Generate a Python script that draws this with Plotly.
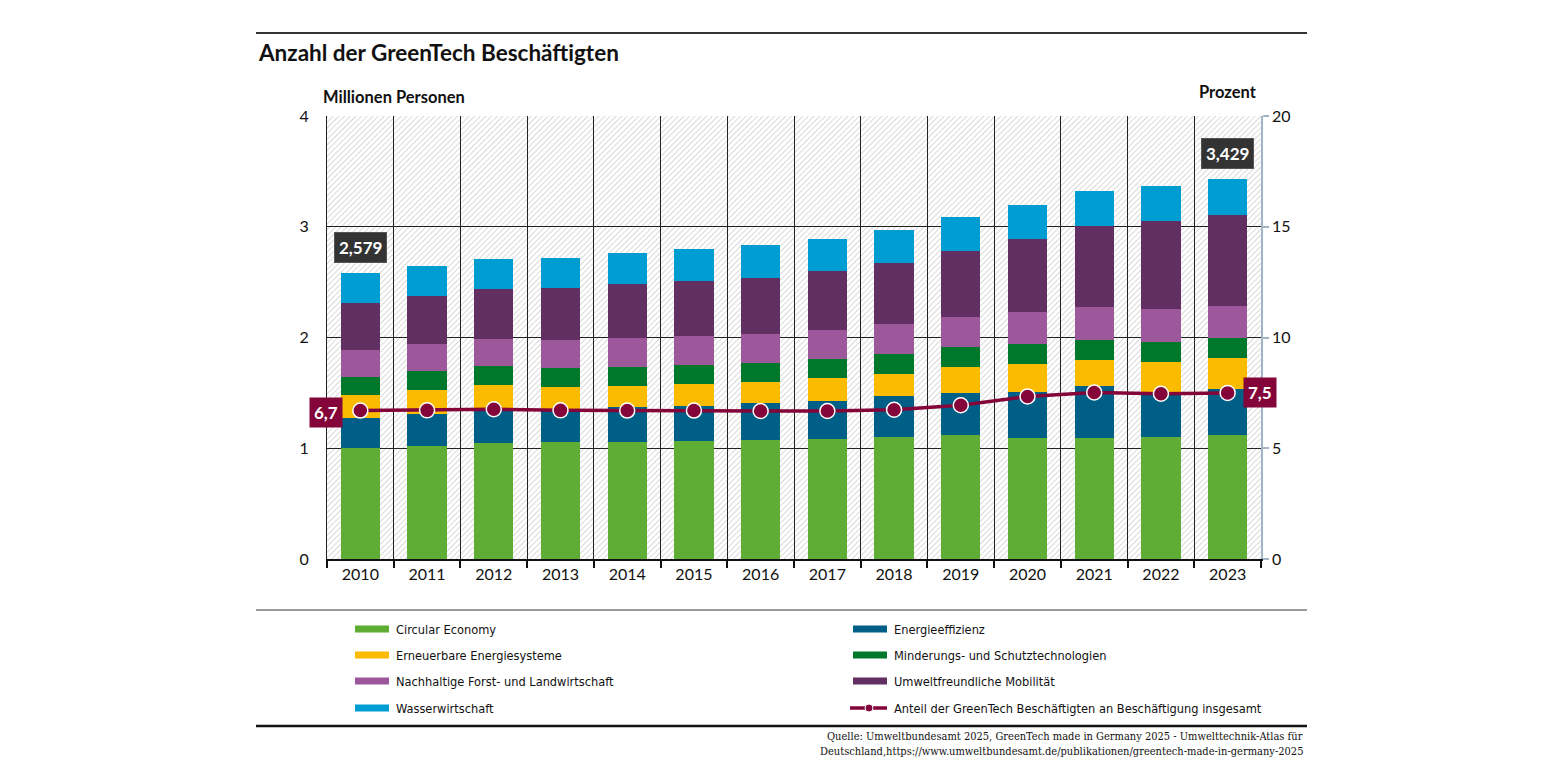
import base64
import plotly.graph_objects as go

years = ['2010', '2011', '2012', '2013', '2014', '2015', '2016',
         '2017', '2018', '2019', '2020', '2021', '2022', '2023']

# Millionen Personen je Leitmarkt (von unten nach oben gestapelt)
circular_economy = [0.999, 1.024, 1.045, 1.054, 1.060, 1.063, 1.072,
                    1.084, 1.102, 1.120, 1.096, 1.090, 1.105, 1.123]
energieeffizienz = [0.276, 0.288, 0.295, 0.296, 0.312, 0.318, 0.333,
                    0.345, 0.366, 0.382, 0.415, 0.469, 0.405, 0.409]
erneuerbare = [0.207, 0.217, 0.234, 0.206, 0.193, 0.199, 0.190,
               0.202, 0.205, 0.228, 0.249, 0.237, 0.268, 0.282]
minderung = [0.163, 0.165, 0.168, 0.168, 0.168, 0.171, 0.171,
             0.174, 0.177, 0.180, 0.180, 0.180, 0.183, 0.180]
forst_land = [0.240, 0.243, 0.246, 0.252, 0.261, 0.267, 0.270,
              0.267, 0.276, 0.279, 0.294, 0.300, 0.300, 0.294]
mobilitaet = [0.423, 0.435, 0.447, 0.468, 0.489, 0.493, 0.505,
              0.526, 0.544, 0.589, 0.652, 0.733, 0.787, 0.814]
wasser = [0.271, 0.271, 0.277, 0.277, 0.280, 0.288, 0.294,
          0.294, 0.303, 0.309, 0.312, 0.315, 0.318, 0.327]

# Anteil an Beschaeftigung insgesamt, Prozent
anteil = [6.70, 6.71, 6.76, 6.71, 6.70, 6.70, 6.68,
          6.68, 6.74, 6.94, 7.34, 7.52, 7.46, 7.50]

series = [
    ('Circular Economy', circular_economy, '#5fad35'),
    ('Energieeffizienz', energieeffizienz, '#005f86'),
    ('Erneuerbare Energiesysteme', erneuerbare, '#fabb00'),
    ('Minderungs- und Schutztechnologien', minderung, '#00782b'),
    ('Nachhaltige Forst- und Landwirtschaft', forst_land, '#9d579b'),
    ('Umweltfreundliche Mobilität', mobilitaet, '#612f62'),
    ('Wasserwirtschaft', wasser, '#009dd3'),
]
line_name = 'Anteil der GreenTech Beschäftigten an Beschäftigung insgesamt'
line_color = '#830539'

FONT = 'Lato, Open Sans, sans-serif'
NARROW = 'Liberation Sans Narrow, DejaVu Sans Condensed, sans-serif'
SERIF = 'DejaVu Serif Condensed, Liberation Serif, serif'

# page body has an 8px margin; positions below are screen pixels
OFF = 8
L, R, T, B = 327, 1261, 116, 559
W, H = R - L, B - T


def px(x):
    return (x - L) / W


def py(y):
    return (B - y) / H


fig = go.Figure()

for name, vals, color in series:
    fig.add_trace(go.Bar(name=name, x=years, y=vals, marker_color=color,
                         marker_line_width=0, width=0.59))

fig.add_trace(go.Scatter(name=line_name, x=years, y=anteil, yaxis='y2',
                         mode='lines+markers',
                         line=dict(color=line_color, width=3.5),
                         marker=dict(size=15, color=line_color,
                                     line=dict(color='white', width=1.5))))

# hatched plot background
hatch_svg = (
    "<svg xmlns='http://www.w3.org/2000/svg' width='%d' height='%d'>"
    "<defs><pattern id='h' width='4' height='4' patternUnits='userSpaceOnUse' "
    "patternTransform='rotate(45)'><line x1='0' y1='0' x2='0' y2='4' "
    "stroke='#b9b9b9' stroke-width='1.1'/></pattern></defs>"
    "<rect width='100%%' height='100%%' fill='white'/>"
    "<rect width='100%%' height='100%%' fill='url(#h)'/></svg>" % (W, H))
hatch_src = 'data:image/svg+xml;base64,' + base64.b64encode(hatch_svg.encode()).decode()

totals = [sum(v) for v in zip(*[s[1] for s in series])]
last = len(years) - 1

annotations = [
    dict(text='<b>Anzahl der GreenTech Beschäftigten</b>', x=px(256), y=py(53),
         xanchor='left', yanchor='middle', font=dict(size=22.5, color='#111')),
    dict(text='<b>Millionen Personen</b>', x=px(321), y=py(97),
         xanchor='left', yanchor='middle', font=dict(size=16.5, color='#111')),
    dict(text='<b>Prozent</b>', x=px(1259), y=py(92),
         xanchor='right', yanchor='middle', font=dict(size=16.5, color='#111')),
]
# category positions given by index (year strings would be read as numbers)
for i in (0, last):
    annotations.append(dict(
        text='<b>%s</b>' % ('%.3f' % totals[i]).replace('.', ','),
        xref='x', yref='y', x=i, y=totals[i], yanchor='bottom', yshift=10,
        showarrow=False, bgcolor='#333333', bordercolor='#555555',
        borderwidth=1, borderpad=4, font=dict(size=17, color='white')))
annotations.append(dict(
    text='<b>%s</b>' % ('%.1f' % anteil[0]).replace('.', ','),
    xref='x', yref='y2', x=0, y=anteil[0], xanchor='right', xshift=-17,
    yshift=-2, showarrow=False, bgcolor=line_color, borderpad=4,
    font=dict(size=17, color='white')))
annotations.append(dict(
    text='<b>%s</b>' % ('%.1f' % anteil[last]).replace('.', ','),
    xref='x', yref='y2', x=last, y=anteil[last], xanchor='left', xshift=15,
    showarrow=False, bgcolor=line_color, borderpad=4,
    font=dict(size=17, color='white')))

shapes = [
    dict(type='line', x0=px(256), x1=px(1307), y0=py(33), y1=py(33),
         line=dict(color='#333', width=2)),
    dict(type='line', x0=px(256), x1=px(1307), y0=py(610), y1=py(610),
         line=dict(color='#777', width=1.5)),
    dict(type='line', x0=px(256), x1=px(1307), y0=py(726), y1=py(726),
         line=dict(color='#111', width=2.5)),
]

# legend, two columns
col_x = [355, 853]
row_y = [629, 655, 681, 708]
items = [(s[0], s[2]) for s in series] + [(line_name, line_color)]
for k, (name, color) in enumerate(items):
    x0 = col_x[k % 2]
    y0 = row_y[k // 2]
    if name == line_name:
        shapes.append(dict(type='line', x0=px(x0 - 3), x1=px(x0 + 34),
                           y0=py(y0), y1=py(y0),
                           line=dict(color=color, width=3.5)))
        shapes.append(dict(type='circle', x0=px(x0 + 12), x1=px(x0 + 20),
                           y0=py(y0 + 4), y1=py(y0 - 4), fillcolor=color,
                           line=dict(color='white', width=1)))
    else:
        shapes.append(dict(type='rect', x0=px(x0), x1=px(x0 + 34),
                           y0=py(y0 + 3.5), y1=py(y0 - 3.5),
                           fillcolor=color, line=dict(width=0)))
    annotations.append(dict(text=name, x=px(x0 + 39), y=py(y0), xanchor='left',
                            yanchor='middle',
                            font=dict(family=NARROW, size=12.7, color='#111')))

annotations.append(dict(
    text='Quelle: Umweltbundesamt 2025, GreenTech made in Germany 2025 - Umwelttechnik-Atlas für',
    x=px(1305), y=py(736), xanchor='right', yanchor='middle',
    font=dict(family=SERIF, size=11, color='#111')))
annotations.append(dict(
    text='Deutschland,https://www.umweltbundesamt.de/publikationen/greentech-made-in-germany-2025',
    x=px(1305), y=py(751), xanchor='right', yanchor='middle',
    font=dict(family=SERIF, size=11, color='#111')))

for a in annotations:
    a.setdefault('xref', 'paper')
    a.setdefault('yref', 'paper')
    a.setdefault('showarrow', False)
for s in shapes:
    s['xref'] = 'paper'
    s['yref'] = 'paper'

fig.update_layout(
    width=1545, height=775,
    margin=dict(l=L - OFF, r=1545 - (R - OFF), t=T - OFF, b=775 - (B - OFF),
                autoexpand=False),
    barmode='stack', showlegend=False,
    paper_bgcolor='white', plot_bgcolor='white',
    font=dict(family=FONT, size=15, color='#111'),
    xaxis=dict(type='category', tickson='boundaries', showgrid=True,
               gridcolor='#222', gridwidth=1, ticks='outside', ticklen=7,
               tickwidth=2, tickcolor='#111', showline=True, linecolor='#111',
               linewidth=2, tickfont=dict(size=16), tickangle=0,
               range=[-0.5, last + 0.5], automargin=False),
    yaxis=dict(range=[0, 4], dtick=1, showgrid=True, gridcolor='#222',
               gridwidth=1, zeroline=False, showline=True, linecolor='#222',
               linewidth=1, ticks='', ticklabelstandoff=14,
               tickfont=dict(size=16), automargin=False),
    yaxis2=dict(range=[0, 20], dtick=5, overlaying='y', side='right',
                showgrid=False, zeroline=False, showline=True,
                linecolor='#a3b4c6', linewidth=1.5, ticks='outside',
                ticklen=6, tickcolor='#a3b4c6', tickwidth=1.5,
                tickfont=dict(size=16), automargin=False),
    images=[dict(source=hatch_src, xref='paper', yref='paper', x=0, y=1,
                 sizex=1, sizey=1, xanchor='left', yanchor='top',
                 sizing='stretch', layer='below')],
    annotations=annotations,
    shapes=shapes,
)

fig.write_html('out.html')
